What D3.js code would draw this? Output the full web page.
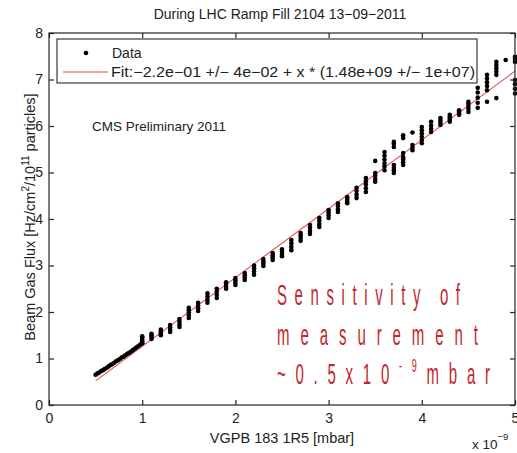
<!DOCTYPE html>
<html>
<head>
<meta charset="utf-8">
<script src="https://cdn.jsdelivr.net/npm/d3@7"></script>
<style>
  body { margin: 0; background: #fff; }
  svg { display: block; font-family: "Liberation Sans", Arial, sans-serif; }
</style>
</head>
<body>
<div id="chart"></div>
<script>
var width = 517,
    height = 453;

// dense start of the ramp (x in 1e-9 mbar)
var rampX = [0.50,0.52,0.54,0.56,0.58,0.60,0.62,0.64,0.66,0.68,0.70,0.72,0.74,
             0.76,0.78,0.80,0.82,0.84,0.86,0.88,0.90,0.92,0.94,0.96,0.98,1.00];
var rampY = [0.65,0.68,0.70,0.73,0.75,0.78,0.80,0.83,0.86,0.88,0.91,0.94,0.96,
             0.99,1.02,1.04,1.07,1.10,1.12,1.15,1.18,1.21,1.24,1.27,1.30,1.33];

// vertical clusters of points during the ramp
var clusterX = [1.0,1.1,1.2,1.3,1.4,1.5,1.6,1.7,1.8,1.9,2.0,2.1,2.2,2.3,2.4,2.5,
                2.6,2.7,2.8,2.9,3.0,3.1,3.2,3.3,3.4,3.5,3.6,3.7,3.8,3.9,4.0,4.1,
                4.2,4.3,4.4,4.5,4.6,4.7,4.8,4.9,5.0];
var clusterY = [
  [1.33,1.37,1.41,1.45,1.48],
  [1.42,1.46,1.50,1.53],
  [1.50,1.54,1.58,1.62],
  [1.57,1.62,1.67,1.72],
  [1.68,1.73,1.79,1.85],
  [1.87,1.93,1.99,2.04,2.09],
  [2.02,2.08,2.14,2.20],
  [2.20,2.26,2.33,2.40],
  [2.30,2.37,2.44,2.50],
  [2.50,2.55,2.60,2.64],
  [2.58,2.63,2.68,2.73],
  [2.69,2.74,2.79,2.84],
  [2.80,2.87,2.94,3.00],
  [2.99,3.04,3.09,3.14],
  [3.12,3.17,3.22,3.27],
  [3.20,3.25,3.30,3.35],
  [3.33,3.40,3.48,3.55],
  [3.53,3.59,3.65,3.70],
  [3.68,3.74,3.81,3.87],
  [3.83,3.89,3.96,4.02],
  [4.02,4.08,4.14,4.19],
  [4.15,4.21,4.28,4.34],
  [4.34,4.38,4.43,4.47],
  [4.45,4.52,4.60,4.67],
  [4.58,4.66,4.74,4.81,4.88],
  [4.80,4.86,4.93,4.99,5.25],
  [5.05,5.13,5.20,5.28,5.36,5.44],
  [4.99,5.05,5.10,5.16,5.55,5.62,5.66],
  [5.16,5.22,5.28,5.33,5.42,5.74,5.80],
  [5.48,5.53,5.59,5.86],
  [5.63,5.70,5.77,5.84,5.91,5.98],
  [5.87,5.94,6.01,6.09],
  [6.02,6.07,6.12,6.17],
  [6.09,6.14,6.19,6.24],
  [6.24,6.28,6.31,6.34],
  [6.30,6.37,6.43,6.48,6.52],
  [6.39,6.50,6.61,6.72,6.82],
  [6.52,6.77,6.86,6.94,7.02,7.10],
  [6.60,7.10,7.17,7.24,7.31,7.38],
  [7.42],
  [6.70,6.80,6.90,6.99,7.38,7.44,7.49]
];

// linear fit: y = p0 + p1 * x
var fitP0 = -0.22,
    fitP1 = 1.48,
    fitRange = [0.5, 5.0];

var xTicks = [0, 1, 2, 3, 4, 5],
    yTicks = [0, 1, 2, 3, 4, 5, 6, 7, 8];

var margin = {top: 33, right: 2, bottom: 48, left: 49};

var x = d3.scaleLinear().domain([0, 5]).range([margin.left, width - margin.right]);
var y = d3.scaleLinear().domain([0, 8]).range([height - margin.bottom, margin.top]);

var svg = d3.select("#chart").append("svg")
    .attr("width", width)
    .attr("height", height);

var axisColor = "#262626";

// title
svg.append("text")
    .attr("x", 280).attr("y", 19)
    .attr("text-anchor", "middle")
    .style("font-size", "14px")
    .style("fill", "#222")
    .text("During LHC Ramp Fill 2104 13\u221209\u22122011");

// fit line
svg.append("line")
    .attr("x1", x(fitRange[0])).attr("y1", y(fitP0 + fitP1 * fitRange[0]))
    .attr("x2", x(fitRange[1])).attr("y2", y(fitP0 + fitP1 * fitRange[1]))
    .style("stroke", "#f04848")
    .style("stroke-width", 1.1);

// data points
var points = [];
rampX.forEach(function(v, i) { points.push([v, rampY[i]]); });
clusterX.forEach(function(v, i) {
  clusterY[i].forEach(function(w) { points.push([v, w]); });
});

svg.append("g").selectAll("circle")
    .data(points)
    .enter().append("circle")
    .attr("cx", function(d) { return x(d[0]); })
    .attr("cy", function(d) { return y(d[1]); })
    .attr("r", 2.3)
    .style("fill", "#000");

// axes, ticks pointing inward
var gx = svg.append("g")
    .attr("transform", `translate(0,${y(0)})`)
    .call(d3.axisBottom(x).tickValues(xTicks).tickSizeInner(-5).tickSizeOuter(0).tickPadding(8).tickFormat(d3.format("d")));
var gy = svg.append("g")
    .attr("transform", `translate(${x(0)},0)`)
    .call(d3.axisLeft(y).tickValues(yTicks).tickSizeInner(-5).tickSizeOuter(0).tickPadding(6).tickFormat(d3.format("d")));
var gt = svg.append("g")
    .attr("transform", `translate(0,${y(8)})`)
    .call(d3.axisTop(x).tickValues(xTicks).tickSizeInner(-5).tickSizeOuter(0).tickFormat(""));
var gr = svg.append("g")
    .attr("transform", `translate(${x(5)},0)`)
    .call(d3.axisRight(y).tickValues(yTicks).tickSizeInner(-5).tickSizeOuter(0).tickFormat(""));

[gx, gy, gt, gr].forEach(function(g) {
  g.select(".domain").remove();
  g.selectAll("line").style("stroke", axisColor).style("stroke-width", 1.2);
  g.selectAll("text").style("font-size", "14px").style("fill", "#222")
      .style("font-family", "Liberation Sans, Arial, sans-serif");
});

svg.append("rect")
    .attr("x", x(0)).attr("y", y(8))
    .attr("width", x(5) - x(0)).attr("height", y(0) - y(8))
    .style("fill", "none")
    .style("stroke", axisColor)
    .style("stroke-width", 1.2);

// axis labels
svg.append("text")
    .attr("x", 282).attr("y", 443)
    .attr("text-anchor", "middle")
    .style("font-size", "14.5px").style("fill", "#222")
    .text("VGPB 183 1R5 [mbar]");

var expo = svg.append("text")
    .attr("x", 472).attr("y", 449)
    .style("font-size", "13.5px").style("fill", "#222");
expo.append("tspan").text("x 10");
expo.append("tspan").attr("dy", -9).style("font-size", "9.5px").text("\u22129");

var ylab = svg.append("text")
    .attr("transform", `translate(35,217) rotate(-90)`)
    .attr("text-anchor", "middle")
    .style("font-size", "14.5px").style("fill", "#222");
ylab.append("tspan").text("Beam Gas Flux [Hz/cm");
ylab.append("tspan").attr("dy", -6).style("font-size", "10px").text("2");
ylab.append("tspan").attr("dy", 6).text("/10");
ylab.append("tspan").attr("dy", -6).style("font-size", "10px").text("11");
ylab.append("tspan").attr("dy", 6).text(" particles]");

// legend
var legend = svg.append("g");
legend.append("rect")
    .attr("x", 57).attr("y", 39)
    .attr("width", 420).attr("height", 44)
    .style("fill", "#fff")
    .style("stroke", axisColor)
    .style("stroke-width", 1.1);
legend.append("circle")
    .attr("cx", 86).attr("cy", 53).attr("r", 2.3)
    .style("fill", "#000");
legend.append("text")
    .attr("x", 112).attr("y", 58)
    .style("font-size", "14px").style("fill", "#222")
    .text("Data");
legend.append("line")
    .attr("x1", 63).attr("x2", 108).attr("y1", 72).attr("y2", 72)
    .style("stroke", "#f04848").style("stroke-width", 1.1);
legend.append("text")
    .attr("x", 111).attr("y", 77)
    .attr("textLength", 364).attr("lengthAdjust", "spacingAndGlyphs")
    .style("font-size", "14px").style("fill", "#222")
    .text("Fit:\u22122.2e\u221201 +/\u2212 4e\u221202 + x * (1.48e+09 +/\u2212 1e+07)");

svg.append("text")
    .attr("x", 92).attr("y", 131)
    .style("font-size", "13.5px").style("fill", "#222")
    .text("CMS Preliminary 2011");

// red annotation, narrow and widely spaced
var note = [
  {t: "Sensitivity of", y: 305, w: 183},
  {t: "measurement", y: 345, w: 201}
];
var sx = 0.5;
note.forEach(function(n) {
  svg.append("g")
      .attr("transform", `translate(277,${n.y}) scale(${sx},1)`)
    .append("text")
      .attr("textLength", n.w / sx)
      .attr("lengthAdjust", "spacing")
      .style("font-size", "30px")
      .style("fill", "#c1272d")
      .text(n.t);
});
var last = svg.append("g")
    .attr("transform", `translate(277,384) scale(${sx},1)`)
  .append("text")
    .attr("textLength", 213 / sx)
    .attr("lengthAdjust", "spacing")
    .style("font-size", "30px")
    .style("fill", "#c1272d");
last.append("tspan").text("~0.5x10");
last.append("tspan").attr("dy", -12).style("font-size", "18px").text("-9");
last.append("tspan").attr("dy", 12).text("mbar");
</script>
</body>
</html>
